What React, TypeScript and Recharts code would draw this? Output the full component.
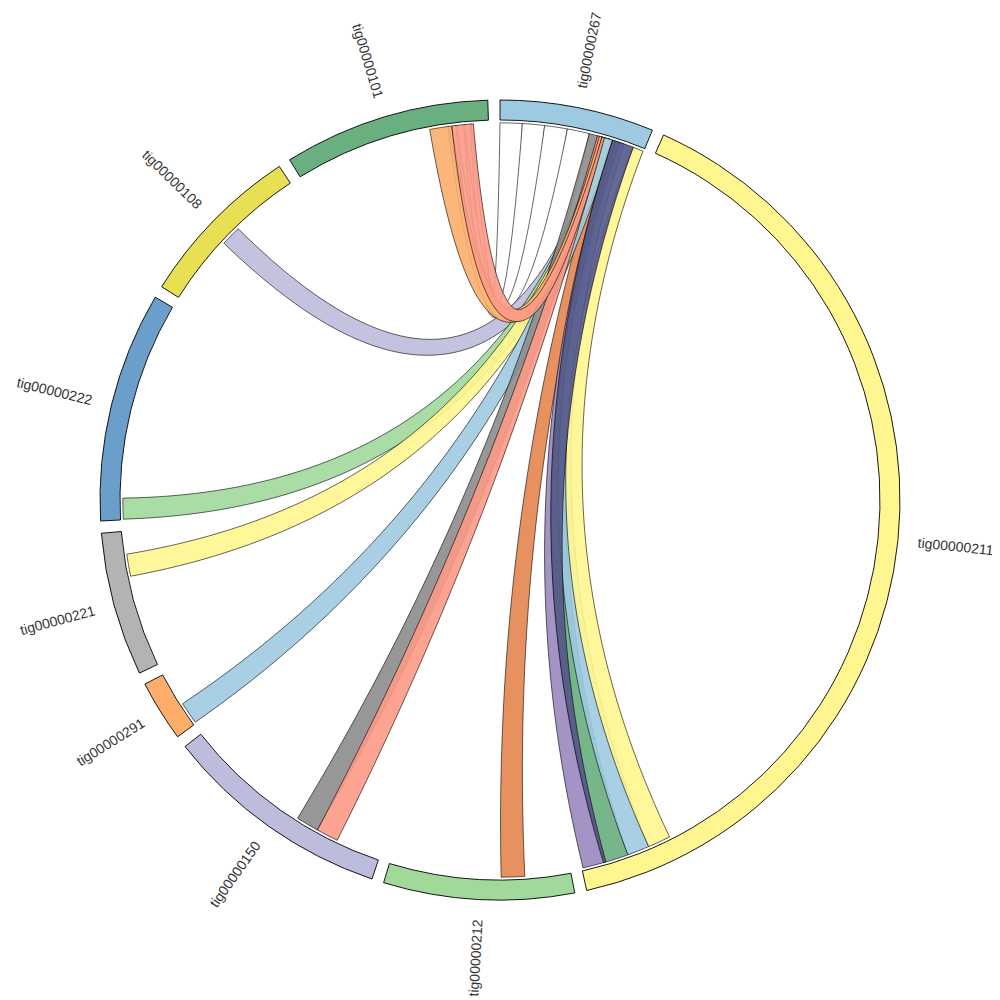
import React from "react";
import { Cell, Customized, Pie, PieChart } from "recharts";

// contigs, clockwise from 12 o'clock (lengths in kb)
const contigNames = [
  "tig00000267",
  "tig00000211",
  "tig00000212",
  "tig00000150",
  "tig00000291",
  "tig00000221",
  "tig00000222",
  "tig00000108",
  "tig00000101",
];
const contigLengths = [224, 1434, 277, 333, 89, 209, 335, 243, 300];
const contigColors = [
  "#9ecae1",
  "#fff68f",
  "#a1d99b",
  "#bcbddc",
  "#fdae6b",
  "#b3b3b3",
  "#6b9ecb",
  "#e8e052",
  "#69af80",
];

// links, all starting on tig00000267 (positions in kb along each contig), in drawing order
const linkTargets = [
  "tig00000101",
  "tig00000101",
  "tig00000101",
  "tig00000101",
  "tig00000212",
  "tig00000108",
  "tig00000222",
  "tig00000221",
  "tig00000291",
  "tig00000150",
  "tig00000150",
  "tig00000211",
  "tig00000211",
  "tig00000211",
  "tig00000211",
  "tig00000211",
  "tig00000101",
  "tig00000101",
];
const linkSourceStart = [0, 34, 68, 103, 164, 155, 156, 158, 160, 137, 150, 174, 179, 185, 207, 174, 153, 157];
const linkSourceEnd = [34, 68, 103, 137, 174, 170, 170, 172, 174, 153, 160, 179, 185, 192, 223, 207, 157, 161];
const linkTargetStart = [272, 262, 250, 238, 70, 107, 1, 140, 2, 103, 69, 1398, 1361, 1327, 1292, 1396, 210, 244];
const linkTargetEnd = [274, 264, 252, 240, 106, 138, 33, 174, 36, 138, 103, 1432, 1398, 1361, 1327, 1400, 244, 277];
const linkColors = [
  "#ffffff",
  "#ffffff",
  "#ffffff",
  "#ffffff",
  "#e6854f",
  "#bcbddc",
  "#a1d99b",
  "#fff68f",
  "#9ecae1",
  "#8c8c8c",
  "#fc9a85",
  "#9a88c0",
  "#68ae7e",
  "#9ecae1",
  "#fff68f",
  "#55588a",
  "#fdae6b",
  "#fc9a85",
];

const SIZE = 992;
const CX = 492;
const CY = 492;
const INNER = 380;
const OUTER = 400;
const LINK_R = 377;
const LABEL_R = 420;
const PAD = 1.75;

const contigData = contigNames.map((name, i) => ({ name, length: contigLengths[i] }));

// same angular layout as the Pie below (clockwise from 12 o'clock, PAD between sectors)
const totalLength = contigLengths.reduce((a, b) => a + b, 0);
const degPerKb = (360 - PAD * contigNames.length) / totalLength;
const contigStart: Record<string, number> = {};
contigNames.reduce((acc, name, i) => {
  contigStart[name] = acc;
  return acc + contigLengths[i] * degPerKb + PAD;
}, 0);
const toAngle = (name: string, pos: number) => contigStart[name] + pos * degPerKb;

const polar = (theta: number, r: number) => {
  const t = (theta * Math.PI) / 180;
  return [CX + r * Math.sin(t), CY - r * Math.cos(t)];
};

// ribbon along a quadratic curve through the centre, width going from source to target
function ribbonPath(a0: number, a1: number, b0: number, b1: number) {
  const R = LINK_R;
  const ps = polar((a0 + a1) / 2, R);
  const pt = polar((b0 + b1) / 2, R);
  const ws = (R * (a1 - a0) * Math.PI) / 180;
  const wt = (R * (b1 - b0) * Math.PI) / 180;
  const N = 60;
  const left: number[][] = [];
  const right: number[][] = [];
  for (let i = 0; i <= N; i++) {
    const u = i / N;
    const bx = (1 - u) ** 2 * ps[0] + 2 * u * (1 - u) * CX + u * u * pt[0];
    const by = (1 - u) ** 2 * ps[1] + 2 * u * (1 - u) * CY + u * u * pt[1];
    const dx = 2 * (1 - u) * (CX - ps[0]) + 2 * u * (pt[0] - CX);
    const dy = 2 * (1 - u) * (CY - ps[1]) + 2 * u * (pt[1] - CY);
    const len = Math.hypot(dx, dy) || 1;
    const nx = -dy / len;
    const ny = dx / len;
    const w = ((1 - u) * ws + u * wt) / 2;
    left.push([bx + nx * w, by + ny * w]);
    right.push([bx - nx * w, by - ny * w]);
  }
  const f = (p: number[]) => `${p[0].toFixed(2)},${p[1].toFixed(2)}`;
  let d = `M${f(left[0])}`;
  for (let i = 1; i <= N; i++) d += `L${f(left[i])}`;
  d += `A${R},${R} 0 0 0 ${f(right[N])}`;
  for (let i = N - 1; i >= 0; i--) d += `L${f(right[i])}`;
  d += `A${R},${R} 0 0 0 ${f(left[0])}Z`;
  return d;
}

const Ribbons = () => (
  <g>
    {linkTargets.map((target, i) => (
      <path
        key={`link-${i}`}
        d={ribbonPath(
          toAngle("tig00000267", linkSourceStart[i]),
          toAngle("tig00000267", linkSourceEnd[i]),
          toAngle(target, linkTargetStart[i]),
          toAngle(target, linkTargetEnd[i])
        )}
        fill={linkColors[i]}
        fillOpacity={linkColors[i] === "#ffffff" ? 1 : 0.9}
        stroke="#000"
        strokeWidth={0.6}
      />
    ))}
  </g>
);

const renderLabel = (props: any) => {
  const { cx, cy, midAngle, index } = props;
  const theta = (((90 - midAngle) % 360) + 360) % 360;
  const t = (theta * Math.PI) / 180;
  const x = cx + LABEL_R * Math.sin(t);
  const y = cy - LABEL_R * Math.cos(t);
  const right = theta < 180;
  const rot = right ? theta - 90 : theta + 90;
  return (
    <text
      x={x}
      y={y}
      transform={`rotate(${rot} ${x} ${y})`}
      textAnchor={right ? "start" : "end"}
      dominantBaseline="central"
      fontSize={14}
      fill="#333"
      fontFamily="'Liberation Sans', Arial, sans-serif"
    >
      {contigNames[index]}
    </text>
  );
};

const App = () => {
  return (
    <div style={{ width: SIZE, height: SIZE }}>
      <PieChart width={SIZE} height={SIZE} margin={{ top: 0, right: 0, bottom: 0, left: 0 }}>
        <Customized component={<Ribbons />} />
        <Pie
          data={contigData}
          dataKey="length"
          nameKey="name"
          cx={CX}
          cy={CY}
          innerRadius={INNER}
          outerRadius={OUTER}
          startAngle={90}
          endAngle={-270}
          paddingAngle={PAD}
          stroke="#000"
          strokeWidth={0.9}
          label={renderLabel}
          labelLine={false}
          isAnimationActive={false}
        >
          {contigData.map((c, i) => (
            <Cell key={c.name} fill={contigColors[i]} />
          ))}
        </Pie>
      </PieChart>
    </div>
  );
};

export default App;
